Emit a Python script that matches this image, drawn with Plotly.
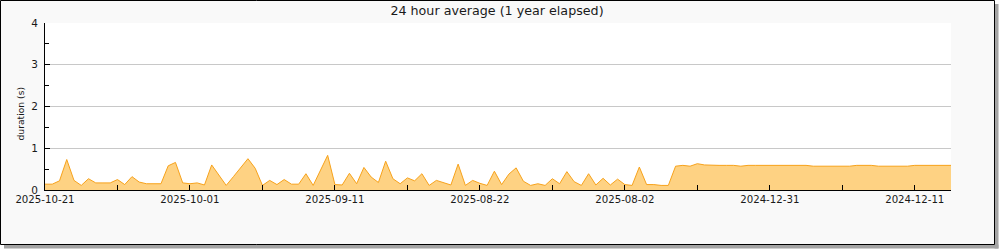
import plotly.graph_objects as go

# ---- data ----
day_index = list(range(126))  # day offset from the left edge (newest on the left)
durations = [
    0.14, 0.14, 0.22, 0.73, 0.23, 0.11, 0.27, 0.17, 0.17, 0.17,
    0.25, 0.13, 0.32, 0.19, 0.15, 0.15, 0.15, 0.58, 0.66, 0.17,
    0.15, 0.17, 0.12, 0.60, 0.35, 0.11, 0.32, 0.55, 0.75, 0.52,
    0.11, 0.23, 0.13, 0.25, 0.14, 0.14, 0.39, 0.11, 0.47, 0.83,
    0.13, 0.12, 0.40, 0.15, 0.54, 0.31, 0.18, 0.69, 0.27, 0.15,
    0.29, 0.22, 0.39, 0.11, 0.23, 0.17, 0.12, 0.62, 0.11, 0.23,
    0.16, 0.11, 0.45, 0.13, 0.38, 0.53, 0.21, 0.11, 0.15, 0.11,
    0.27, 0.15, 0.44, 0.20, 0.11, 0.39, 0.12, 0.28, 0.12, 0.26,
    0.13, 0.11, 0.55, 0.13, 0.13, 0.11, 0.11, 0.57, 0.59, 0.57,
    0.63, 0.60, 0.59, 0.59, 0.59, 0.59, 0.57, 0.59, 0.59, 0.59,
    0.59, 0.59, 0.59, 0.59, 0.59, 0.59, 0.57, 0.57, 0.57, 0.57,
    0.57, 0.57, 0.59, 0.59, 0.59, 0.57, 0.57, 0.57, 0.57, 0.57,
    0.59, 0.59, 0.59, 0.59, 0.59, 0.59,
]
x_tick_positions = [0, 10, 20, 30, 40, 50, 60, 70, 80, 90, 100, 110, 120]
x_tick_labels = ["2025-10-21", "", "2025-10-01", "", "2025-09-11", "", "2025-08-22", "",
                 "2025-08-02", "", "2024-12-31", "", "2024-12-11"]
y_ticks = [0, 1, 2, 3, 4]
title_text = "24 hour average (1 year elapsed)"
y_title = "duration (s)"

# ---- geometry ----
W, H = 1000, 250
ML, MR, MT, MB = 45, 49, 23, 60
PW, PH = W - ML - MR, H - MT - MB


def px(x):
    return (x - ML) / PW


def py(y):
    return (H - MB - y) / PH


fig = go.Figure()
fig.add_trace(go.Scatter(
    x=day_index, y=durations, mode="lines",
    line=dict(color="#f7a21b", width=1),
    fill="tozeroy", fillcolor="#fed283",
    hoverinfo="skip",
))

shapes = [
    # white area outside the frame/shadow
    dict(type="rect", xref="paper", yref="paper", x0=px(998.5), x1=px(1001), y0=py(-1), y1=py(251),
         fillcolor="white", line=dict(width=0), layer="below"),
    dict(type="rect", xref="paper", yref="paper", x0=px(-1), x1=px(1001), y0=py(248.5), y1=py(251),
         fillcolor="white", line=dict(width=0), layer="below"),
    dict(type="rect", xref="paper", yref="paper", x0=px(994.5), x1=px(998.5), y0=py(-1), y1=py(4),
         fillcolor="white", line=dict(width=0), layer="below"),
    dict(type="rect", xref="paper", yref="paper", x0=px(-1), x1=px(4), y0=py(244.5), y1=py(248.5),
         fillcolor="white", line=dict(width=0), layer="below"),
    # shadow
    dict(type="rect", xref="paper", yref="paper", x0=px(994.5), x1=px(998.5), y0=py(4), y1=py(248.5),
         fillcolor="#a4a4a4", line=dict(width=0), layer="below"),
    dict(type="rect", xref="paper", yref="paper", x0=px(4), x1=px(998.5), y0=py(244.5), y1=py(248.5),
         fillcolor="#a4a4a4", line=dict(width=0), layer="below"),
    # frame
    dict(type="rect", xref="paper", yref="paper", x0=px(0.5), x1=px(994.5), y0=py(0.5), y1=py(244.5),
         fillcolor="rgba(0,0,0,0)", line=dict(color="black", width=1), layer="above"),
]

fig.update_layout(
    width=W, height=H,
    margin=dict(l=ML, r=MR, t=MT, b=MB, pad=0),
    paper_bgcolor="#f9f9f9", plot_bgcolor="white",
    showlegend=False,
    font=dict(family="DejaVu Sans", size=10, color="#1a1a1a"),
    title=dict(text=title_text, x=0.497, xanchor="center", y=1 - 11 / H, yanchor="middle",
               font=dict(family="DejaVu Sans", size=12.7, color="#1a1a1a")),
    shapes=shapes,
    annotations=[dict(text=y_title, xref="paper", yref="paper", x=px(20), y=py(113.5),
                      textangle=-90, showarrow=False, xanchor="center", yanchor="middle",
                      font=dict(family="DejaVu Sans", size=9.2, color="#1a1a1a"))],
    xaxis=dict(
        range=[0, 125], tickvals=x_tick_positions, ticktext=x_tick_labels,
        ticks="inside", ticklen=5, tickcolor="black", tickwidth=1,
        showline=True, linecolor="black", linewidth=1,
        showgrid=False, zeroline=False, fixedrange=True,
        tickfont=dict(size=10.2),
    ),
    yaxis=dict(
        range=[0, 4], tickvals=y_ticks,
        ticks="inside", ticklen=5, tickcolor="black", tickwidth=1,
        showline=True, linecolor="black", linewidth=1,
        showgrid=True, gridcolor="#c8c8c8", gridwidth=1, zeroline=False,
        minor=dict(ticks="inside", ticklen=4, tickcolor="black", dtick=0.5, showgrid=False),
        fixedrange=True, tickfont=dict(size=10.5), ticklabelstandoff=4,
    ),
)

fig.write_html("out.html")
